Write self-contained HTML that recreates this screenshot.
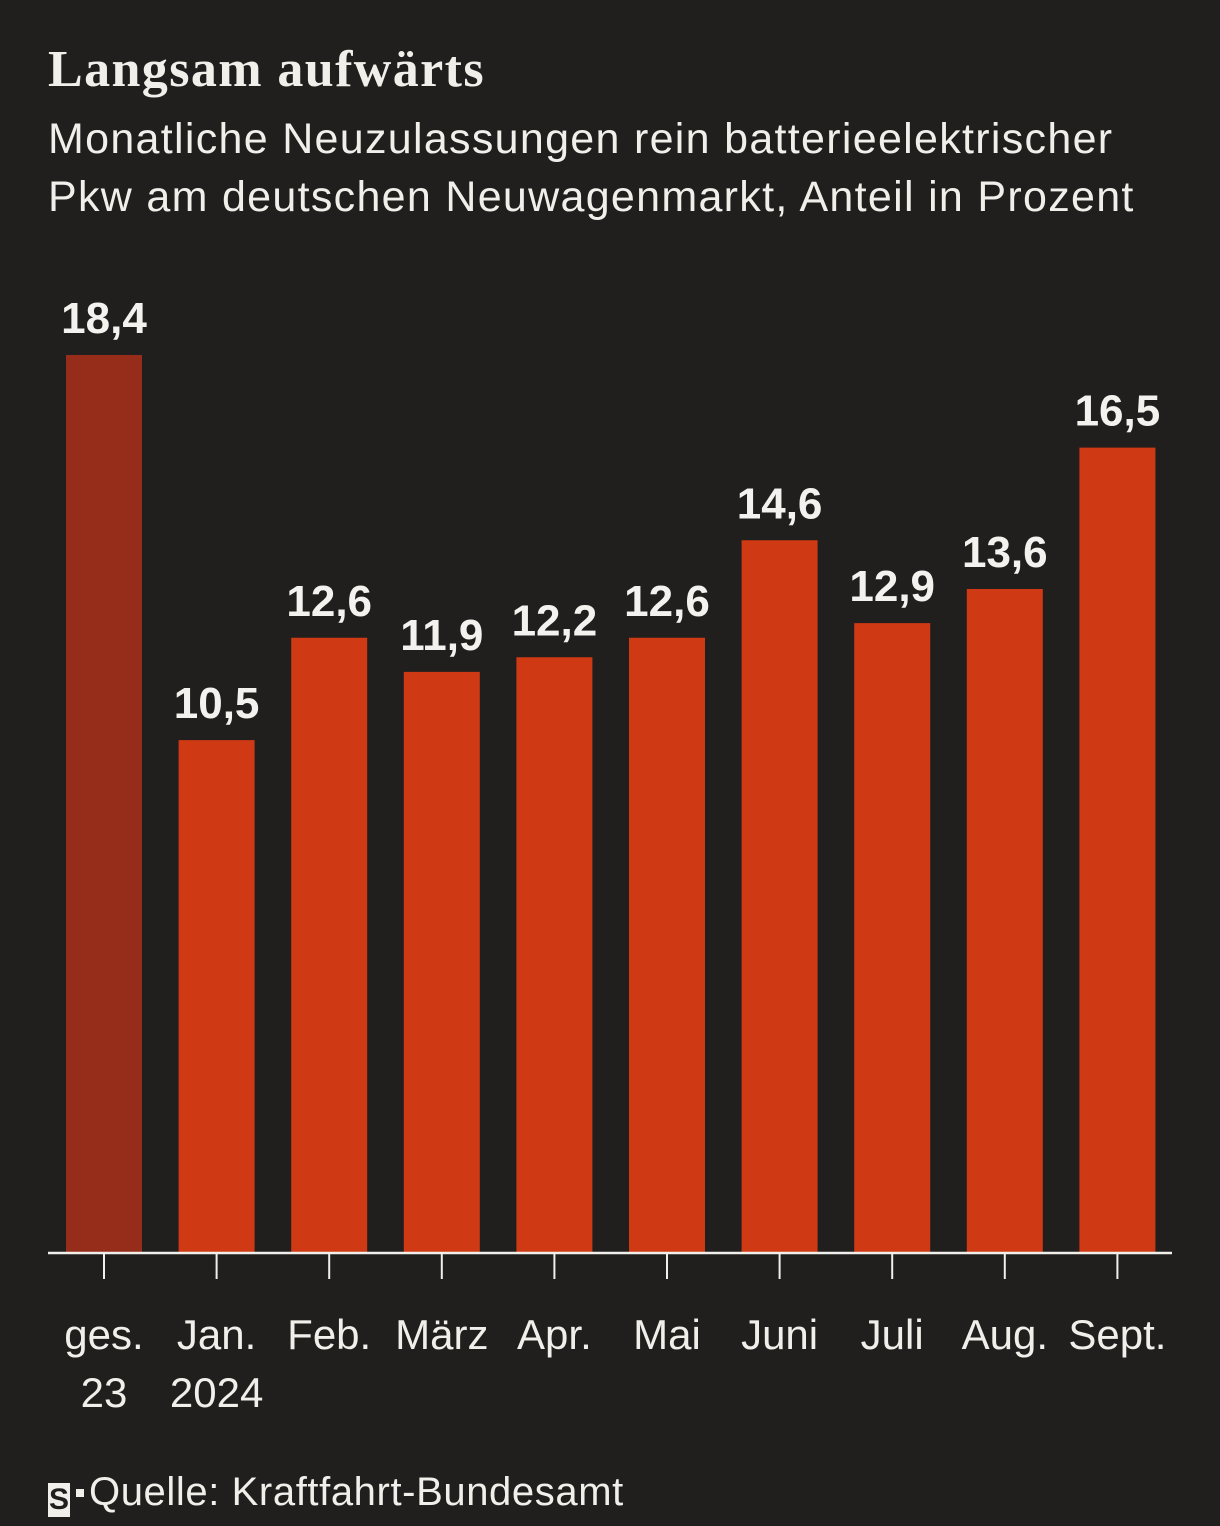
<!DOCTYPE html>
<html><head><meta charset="utf-8"><style>
body{margin:0;background:#201f1e;width:1220px;height:1526px;overflow:hidden;font-family:"Liberation Sans",sans-serif;color:#f0efea}
#title{position:absolute;left:48px;top:40px;font-family:"Liberation Serif",serif;font-weight:bold;font-size:52px;letter-spacing:1.4px}
#sub{position:absolute;left:48px;top:110px;font-size:43px;line-height:58px;letter-spacing:1.3px;white-space:nowrap}
#src{position:absolute;left:48px;top:1470px;font-size:40px;letter-spacing:0.6px}
</style></head><body>
<div id="title">Langsam aufwärts</div>
<div id="sub">Monatliche Neuzulassungen rein batterieelektrischer<br>Pkw am deutschen Neuwagenmarkt, Anteil in Prozent</div>
<svg id="chart" width="1220" height="1526" style="position:absolute;left:0;top:0"></svg>
<div id="src"><span style="display:inline-block;background:#f0efea;color:#201f1e;font-weight:bold;font-size:30px;width:22px;height:34px;line-height:34px;text-align:center;vertical-align:-4px;letter-spacing:0">S</span><span style="display:inline-block;width:8px;height:8px;background:#f0efea;margin:0 5px 0 6px;vertical-align:8px"></span>Quelle: Kraftfahrt-Bundesamt</div>
<script>
const categories=["ges.|23","Jan.|2024","Feb.","März","Apr.","Mai","Juni","Juli","Aug.","Sept."];
const values=[18.4,10.5,12.6,11.9,12.2,12.6,14.6,12.9,13.6,16.5];
const labels=["18,4","10,5","12,6","11,9","12,2","12,6","14,6","12,9","13,6","16,5"];
const svg=document.getElementById('chart');const NS="http://www.w3.org/2000/svg";
const base=1252,scale=48.75,x0=104,step=112.6,bw=76;
const y=v=>base-v*scale, xc=i=>x0+i*step;
function mk(t,a){const e=document.createElementNS(NS,t);for(const k in a)e.setAttribute(k,a[k]);svg.appendChild(e);return e;}
values.forEach((v,i)=>{
 const r=mk('rect',{x:xc(i)-bw/2,y:y(v),width:bw,height:base-y(v),fill:i==0?'#952d1a':'#cf3a14'});
 
 
 const t=mk('text',{x:xc(i),y:y(v)-22,'text-anchor':'middle','font-size':44,'font-weight':'bold',fill:'#f3f2ee',stroke:'#201f1e','stroke-width':6,'paint-order':'stroke'});
 t.textContent=labels[i];
 
 
 const tk=mk('line',{x1:xc(i),x2:xc(i),y1:base,y2:1279,stroke:'#f0efea','stroke-width':2});
 
 
 categories[i].split('|').forEach((s,j)=>{
  const c=mk('text',{x:xc(i),y:1349+j*58,'text-anchor':'middle','font-size':42,fill:'#f0efea'});
  c.textContent=s;
  
  
 });
});
const ax=mk('line',{x1:48,x2:1172,y1:base+1,y2:base+1,stroke:'#f0efea','stroke-width':2.5});


</script>
</body></html>
